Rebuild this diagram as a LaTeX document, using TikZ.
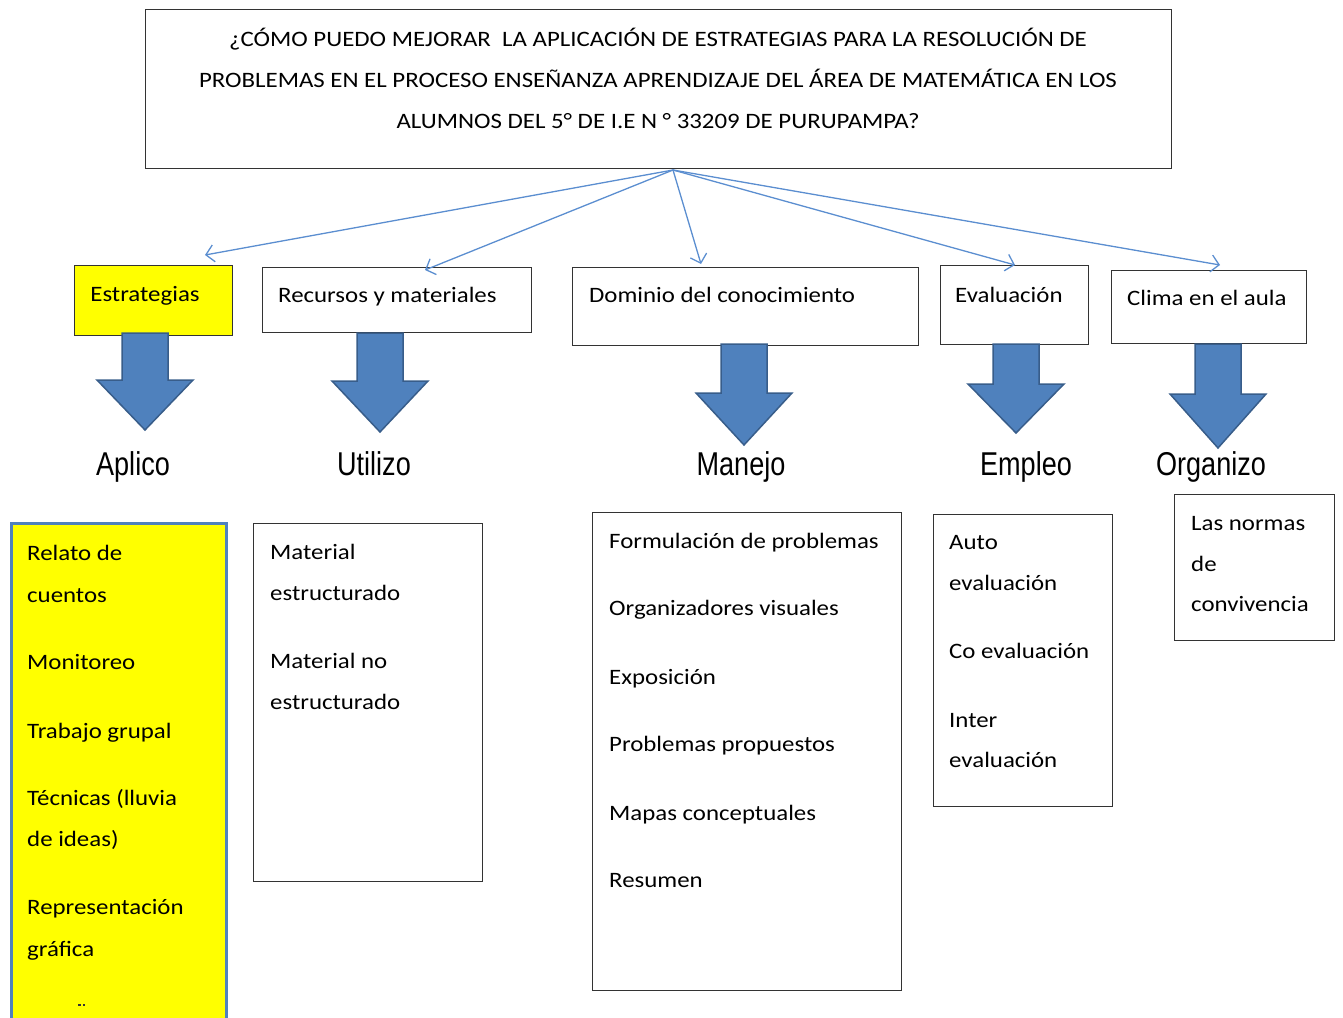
\documentclass[tikz,border=0pt]{standalone}
\usepackage{fontspec}
\setmainfont{Carlito}[FakeStretch=1.13]
\newfontfamily\narrowfont{Liberation Sans}
\usetikzlibrary{arrows.meta,calc}
\definecolor{ablue}{HTML}{4F81BD}
\definecolor{ablueD}{HTML}{385D8A}
\definecolor{lblue}{HTML}{5B8ED0}
\definecolor{ybox}{HTML}{FFFF00}
\tikzset{
  box/.style={draw=black!80,line width=1.2pt,anchor=north west,inner sep=0pt},
  txt/.style={anchor=base west,inner sep=0pt,font=\fontsize{22}{26}\selectfont},
  ctxt/.style={anchor=base,inner sep=0pt,font=\fontsize{22}{26}\selectfont},
  lab/.style={anchor=base,inner sep=0pt,font=\narrowfont\fontsize{33}{36}\selectfont},
  link/.style={draw=lblue,line width=1.3pt,-{Straight Barb[length=8pt,width=17pt,line width=1.3pt]}},
  barrow/.style={fill=ablue,draw=ablueD,line width=1.5pt,line join=miter}
}
\newcommand{\blockarrow}[5]{% cx, top, headtop, tip, name
  \draw[barrow] (#1-23,#2) -- (#1+23,#2) -- (#1+23,#3) -- (#1+48,#3) -- (#1,#4) -- (#1-48,#3) -- (#1-23,#3) -- cycle;
}
\begin{document}
\begin{tikzpicture}[x=1pt,y=-1pt]
\useasboundingbox (0,0) rectangle (1343,1017);
% top box
\node[box,minimum width=1026pt,minimum height=159pt] (top) at (145,9) {};
\node[ctxt] (t1) at (658,46) {¿CÓMO PUEDO MEJORAR\ \ LA APLICACIÓN DE ESTRATEGIAS PARA LA RESOLUCIÓN DE};
\node[ctxt] (t2) at (658,87) {PROBLEMAS EN EL PROCESO ENSEÑANZA APRENDIZAJE DEL ÁREA DE MATEMÁTICA EN LOS};
\node[ctxt] (t3) at (658,128) {ALUMNOS DEL 5° DE I.E N ° 33209 DE PURUPAMPA?};
% second row boxes
\node[box,fill=ybox,minimum width=158pt,minimum height=70pt] (estr) at (74,265) {};
\node[ctxt] at (145,301) {Estrategias};
\node[box,minimum width=269pt,minimum height=65pt] (recu) at (262,267) {};
\node[txt] at (278,302) {Recursos y materiales};
\node[box,minimum width=346pt,minimum height=78pt] (domi) at (572,267) {};
\node[txt] at (589,302) {Dominio del conocimiento};
\node[box,minimum width=148pt,minimum height=79pt] (eval) at (940,265) {};
\node[txt] at (955,302) {Evaluación};
\node[box,minimum width=195pt,minimum height=73pt] (clim) at (1111,270) {};
\node[txt] at (1127,305) {Clima en el aula};
% thin arrows
\coordinate (hub) at (673,170);
\coordinate (e1) at (205,255);
\coordinate (e2) at (425,270);
\coordinate (e3) at (701,264);
\coordinate (e4) at (1015,265);
\coordinate (e5) at (1220,265);
\draw[link] (hub) -- (e1);
\draw[link] (hub) -- (e2);
\draw[link] (hub) -- (e3);
\draw[link] (hub) -- (e4);
\draw[link] (hub) -- (e5);
% block arrows
\blockarrow{145}{333}{380}{430}{a1}
\blockarrow{380}{333}{381}{432}{a2}
\blockarrow{744}{344}{393}{445}{a3}
\blockarrow{1016}{344}{384}{433}{a4}
\blockarrow{1218}{344}{394}{448}{a5}
% labels
\node[lab] (l1) at (133,475) {\scalebox{0.82}[1]{Aplico}};
\node[lab] (l2) at (374,475) {\scalebox{0.82}[1]{Utilizo}};
\node[lab] (l3) at (741,475) {\scalebox{0.82}[1]{Manejo}};
\node[lab] (l4) at (1026,475) {\scalebox{0.82}[1]{Empleo}};
\node[lab] (l5) at (1211,475) {\scalebox{0.82}[1]{Organizo}};
% bottom boxes
\node[box,draw=ablue,line width=3pt,fill=ybox,minimum width=215pt,minimum height=520pt] (b1) at (10,522) {};
\node[txt] at (27,560) {Relato de};
\node[txt] at (27,602) {cuentos};
\node[txt] at (27,669) {Monitoreo};
\node[txt] at (27,738) {Trabajo grupal};
\node[txt] at (27,805) {Técnicas (lluvia};
\node[txt] at (27,846) {de ideas)};
\node[txt] at (27,914) {Representación};
\node[txt] at (27,956) {gráfica};
\fill[black!80] (78,1004) rectangle (80.5,1006);
\fill[black!80] (82.5,1004) rectangle (85,1006);
\node[box,minimum width=229pt,minimum height=358pt] (b2) at (253,523) {};
\node[txt] at (270,559) {Material};
\node[txt] at (270,600) {estructurado};
\node[txt] at (270,668) {Material no};
\node[txt] at (270,709) {estructurado};
\node[box,minimum width=309pt,minimum height=478pt] (b3) at (592,512) {};
\node[txt] at (609,548) {Formulación de problemas};
\node[txt] at (609,615) {Organizadores visuales};
\node[txt] at (609,684) {Exposición};
\node[txt] at (609,751) {Problemas propuestos};
\node[txt] at (609,820) {Mapas conceptuales};
\node[txt] at (609,887) {Resumen};
\node[box,minimum width=179pt,minimum height=292pt] (b4) at (933,514) {};
\node[txt] at (949,549) {Auto};
\node[txt] at (949,590) {evaluación};
\node[txt] at (949,658) {Co evaluación};
\node[txt] at (949,727) {Inter};
\node[txt] at (949,767) {evaluación};
\node[box,minimum width=160pt,minimum height=146pt] (b5) at (1174,494) {};
\node[txt] at (1191,530) {Las normas};
\node[txt] at (1191,571) {de};
\node[txt] at (1191,611) {convivencia};
\end{tikzpicture}
\end{document}
